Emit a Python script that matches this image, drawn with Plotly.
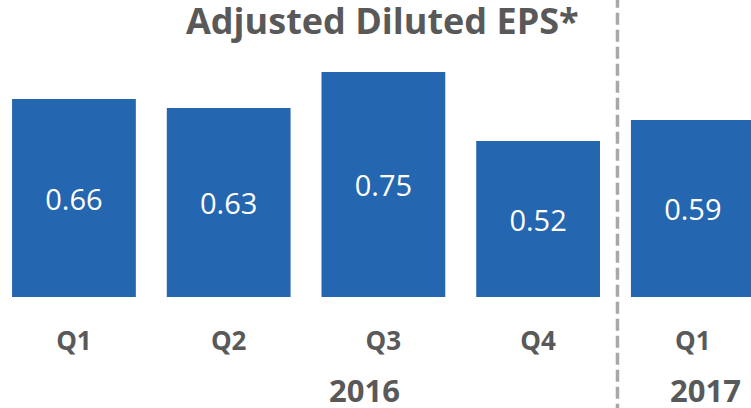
import plotly.graph_objects as go

quarters = ["Q1", "Q2", "Q3", "Q4", "Q1"]
eps_values = [0.66, 0.63, 0.75, 0.52, 0.59]
value_labels = ["0.66", "0.63", "0.75", "0.52", "0.59"]
years = ["2016", "2017"]
year_positions = [1.875, 4.08]

GRAY = "#595959"
BLUE = "#2566B0"
FONT = "Open Sans"

x_pos = list(range(len(quarters)))

fig = go.Figure(go.Bar(
    x=x_pos, y=eps_values, width=0.8,
    marker=dict(color=BLUE, line=dict(width=0)),
    text=value_labels, textposition="inside", insidetextanchor="middle",
    textfont=dict(family=FONT, size=29, color="white"),
    textangle=0, hoverinfo="skip",
))

fig.update_layout(
    width=751, height=408,
    margin=dict(l=0, r=0, t=0, b=111),
    paper_bgcolor="white", plot_bgcolor="white",
    showlegend=False,
    uniformtext=dict(mode=False),
    xaxis=dict(range=[-0.478, 4.376], tickvals=x_pos,
               ticktext=[f"<b>{q}</b>" for q in quarters],
               tickfont=dict(family=FONT, size=26, color=GRAY),
               showgrid=False, zeroline=False, showline=False, ticks="",
               ticklabelstandoff=26, fixedrange=True),
    yaxis=dict(range=[0, 0.99], visible=False, fixedrange=True),
)

fig.add_shape(type="line", xref="x", yref="paper", x0=3.513, x1=3.513,
              y0=-0.4, y1=1.05, line=dict(color="#A8A8A8", width=3.5, dash="12px,5px"))

fig.add_annotation(text="<b>Adjusted Diluted EPS*</b>", xref="paper", yref="paper",
                   x=382/751, y=(297-20)/297, xanchor="center", yanchor="middle",
                   showarrow=False, font=dict(family=FONT, size=36, color=GRAY))

for yr, xp in zip(years, year_positions):
    fig.add_annotation(text=f"<b>{yr}</b>", xref="x", yref="paper", x=xp,
                       y=(297-390)/297, xanchor="center", yanchor="middle",
                       showarrow=False, font=dict(family=FONT, size=31, color=GRAY))

fig.write_html("out.html", config={"displayModeBar": False},
               post_script="document.body.style.margin='0';")
